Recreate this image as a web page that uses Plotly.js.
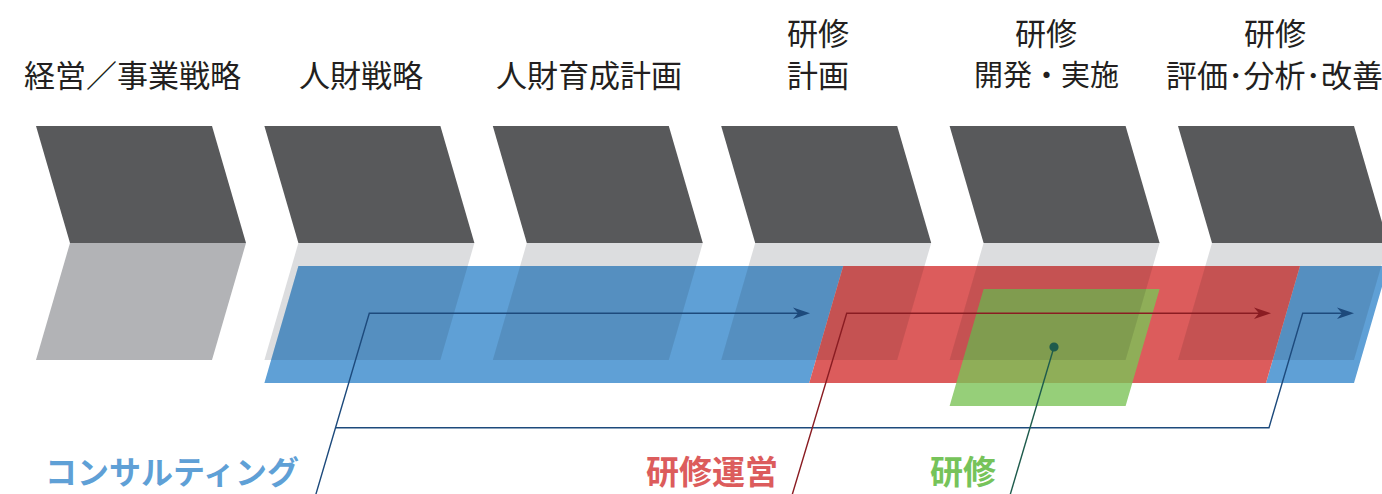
<!DOCTYPE html>
<html>
<head>
<meta charset="utf-8">
<script src="https://cdn.plot.ly/plotly-3.0.1.min.js"></script>
<style>html,body{margin:0;padding:0;background:#fff;}#chart{width:1382px;height:494px;}</style>
</head>
<body>
<div id="chart"></div>
<script>
// ---- data ----
const stageLines = [
  ['経営／事業戦略'],
  ['人財戦略'],
  ['人財育成計画'],
  ['研修', '計画'],
  ['研修', '開発・実施'],
  ['研修', '評価･分析･改善']
];
const services = ['コンサルティング', '研修運営', '研修'];
// spans in stage units (stage k covers [k, k+1])
const consultingSpans = [[1, 3.5], [5.5, 6]];
const operationSpans = [[3.5, 5.5]];
const trainingSpans = [[4, 5]];
const serviceSpans = [consultingSpans, operationSpans, trainingSpans];
const serviceLevel = [1, 1, 2];

// ---- styles & layout constants ----
const G = {x0: 36, pitch: 228.4, w: 176, skew: 34, topY: 126, midY: 243, h: 117, drop: 23, labelDx: 96.5};
const darkColor = '#58595b';
const firstBottom = '#b2b3b6';
const bottomColor = '#dcdddf';
const serviceFill = ['#5fa0d6', '#dc5c5c', 'rgb(124,195,88)'];
const serviceOpacity = [1, 1, 0.8];
const labelColor = ['#5fa0d6', '#dc5c5c', '#76c35a'];
const labelSize = [32, 33, 33];
const lineColor = ['#1d4a7c', '#8a1c22', '#1e5b4c'];
const labelPos = [[172, 470], [712, 470], [963, 470]];
const labelY2 = [31, 73];
const labelY1 = 73;
const stageFontSize = 31;
const stageFontOverride = {'開発・実施': 29};
// connector polylines (pixel layout), arrow tips at last point
const connectors = [
  {svc: 0, pts: [[314.2, 500], [369.3, 313.3], [810, 313.3]], arrow: true},
  {svc: 0, pts: [[335.6, 427.7], [1269, 427.7], [1302.7, 313.3], [1354, 313.3]], arrow: true},
  {svc: 1, pts: [[790.6, 500], [846.7, 313.3], [1271, 313.3]], arrow: true},
  {svc: 2, pts: [[1008.6, 500], [1054, 347]], arrow: false, dot: true}
];

const FONT = '"Noto Sans CJK JP", "Noto Sans CJK SC", sans-serif';

function colX(k) { return G.x0 + G.pitch * k; }
function stageX(s, isEnd) {
  let k = Math.floor(s), f = s - k;
  if (isEnd && f === 0) { k -= 1; f = 1; }
  return colX(k) + G.skew + G.w * f;
}
function para(xa, xb, yt, sk, h) {
  return `M${xa},${yt} L${xb},${yt} L${xb - sk},${yt + h} L${xa - sk},${yt + h} Z`;
}

const shapes = [];
// columns
stageLines.forEach((_, k) => {
  const x0 = colX(k);
  shapes.push({type: 'path', layer: 'below', line: {width: 0}, fillcolor: darkColor,
    path: `M${x0},${G.topY} L${x0 + G.w},${G.topY} L${x0 + G.w + G.skew},${G.midY} L${x0 + G.skew},${G.midY} Z`});
  shapes.push({type: 'path', layer: 'below', line: {width: 0}, fillcolor: k === 0 ? firstBottom : bottomColor,
    path: para(x0 + G.skew, x0 + G.w + G.skew, G.midY, G.skew, G.h)});
});
// service bands
const slope = G.skew / G.h;
services.forEach((name, i) => {
  serviceSpans[i].forEach(sp => {
    const xa = stageX(sp[0], false), xb = stageX(sp[1], true);
    const yt = G.midY + G.drop * serviceLevel[i];
    shapes.push({type: 'path', layer: 'below', line: {width: 0}, fillcolor: serviceFill[i], opacity: serviceOpacity[i],
      path: para(xa, xb, yt, G.skew, G.h)});
  });
});
// darkening where column bottoms overlap the bands
const bandStart = stageX(consultingSpans[0][0], false);
const bandEnd = stageX(consultingSpans[consultingSpans.length - 1][1], true);
const bandTop = G.midY + G.drop;
for (let k = 1; k < stageLines.length; k++) {
  const x0 = colX(k);
  const cl = x0 + G.skew - slope * (bandTop - G.midY);
  const cr = cl + G.w;
  const xa = Math.max(cl, bandStart), xb = Math.min(cr, bandEnd);
  const hh = G.midY + G.h - bandTop;
  shapes.push({type: 'path', layer: 'below', line: {width: 0}, fillcolor: 'rgba(0,0,0,0.1)',
    path: para(xa, xb, bandTop, slope * hh, hh)});
}

// connectors
const traces = [];
connectors.forEach(c => {
  const pts = c.pts.slice();
  if (c.arrow) {
    const t = pts[pts.length - 1];
    pts[pts.length - 1] = [t[0] - 12, t[1]];
    shapes.push({type: 'path', layer: 'above', line: {width: 0}, fillcolor: lineColor[c.svc],
      path: `M${t[0]},${t[1]} L${t[0] - 17},${t[1] - 5.8} L${t[0] - 12},${t[1]} L${t[0] - 17},${t[1] + 5.8} Z`});
  }
  if (c.dot) {
    const t = pts[pts.length - 1];
    shapes.push({type: 'circle', layer: 'above', line: {width: 0}, fillcolor: lineColor[c.svc],
      x0: t[0] - 4.6, x1: t[0] + 4.6, y0: t[1] - 4.6, y1: t[1] + 4.6});
  }
  traces.push({type: 'scatter', mode: 'lines', x: pts.map(p => p[0]), y: pts.map(p => p[1]),
    line: {color: lineColor[c.svc], width: 1.4}, hoverinfo: 'skip', showlegend: false});
});

// annotations
const annotations = [];
stageLines.forEach((lines, k) => {
  const cx = colX(k) + G.labelDx;
  const ys = lines.length === 2 ? labelY2 : [labelY1];
  lines.forEach((t, j) => {
    annotations.push({x: cx, y: ys[j], xref: 'x', yref: 'y', text: t, showarrow: false,
      xanchor: 'center', yanchor: 'middle',
      font: {family: FONT, size: stageFontOverride[t] || stageFontSize, color: '#231f20'}});
  });
});
services.forEach((s, i) => {
  annotations.push({x: labelPos[i][0], y: labelPos[i][1], xref: 'x', yref: 'y', text: '<b>' + s + '</b>', showarrow: false,
    xanchor: 'center', yanchor: 'middle', borderpad: 0,
    font: {family: FONT, size: labelSize[i], color: labelColor[i]}});
});

const layout = {
  width: 1382, height: 494,
  margin: {l: 0, r: 0, t: 0, b: 0},
  paper_bgcolor: '#ffffff', plot_bgcolor: '#ffffff',
  xaxis: {range: [0, 1382], visible: false, fixedrange: true},
  yaxis: {range: [494, 0], visible: false, fixedrange: true},
  shapes: shapes,
  annotations: annotations,
  showlegend: false
};
Plotly.newPlot('chart', traces, layout, {displayModeBar: false, staticPlot: true});
</script>
</body>
</html>
